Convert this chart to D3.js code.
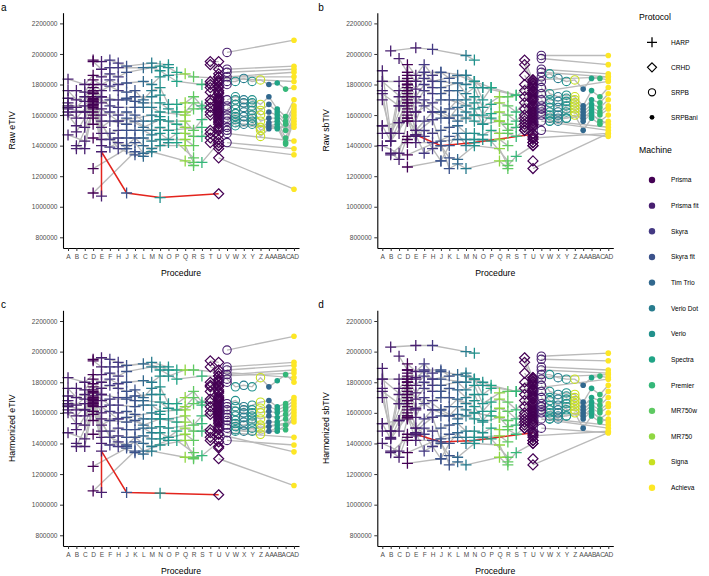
<!DOCTYPE html>
<html>
<head>
<meta charset="utf-8">
<script src="https://cdn.jsdelivr.net/npm/d3@7"></script>
<style>
  body { margin: 0; background: #fff; }
  svg { display: block; font-family: "Liberation Sans", Arial, sans-serif; }
</style>
</head>
<body>
<svg id="chart" width="709" height="576"></svg>
<script>
// procedures on the x axis, with the scanner and protocol used at each
const procedures = ['A','B','C','D','E','F','H','J','K','L','M','N','O','P','Q','R','S','T','U','V','W','X','Y','Z','AA','AB','AC','AD'];
const procMachine = [1,1,1,0,1,2,2,3,3,4,5,6,6,7,10,9,8,0,0,1,6,5,6,11,4,7,8,12];
const procProtocol = ['HARP','HARP','HARP','HARP','HARP','HARP','HARP','HARP','HARP','HARP','HARP','HARP','HARP','HARP','HARP','HARP','HARP',
  'CRHD','CRHD','SRPB','SRPB','SRPB','SRPB','SRPB','SRPBani','SRPBani','SRPBani','SRPBani'];
const protocols = ['HARP','CRHD','SRPB','SRPBani'];
const machines = ['Prisma','Prisma fit','Skyra','Skyra fit','Tim Trio','Verio Dot','Verio','Spectra','Premier','MR750w','MR750','Signa','Achieva'];
const yTicks = [800, 1000, 1200, 1400, 1600, 1800, 2000, 2200]; // x 1000

// subject at index 17 is drawn in red
const highlighted = 17;

// procedures visited by each subject (values below in thousands, same order)
const visits = [
  'D E F H J M O', 'D E F H L N O P', 'A C D E F H J M N P S U AD', 'B C D E F H J L M N O Q R AD',
  'A B C D E F H J K L M N O P Q R S U', 'A C D E H J K M N', 'A B D E F J K L N O P Q R S U', 'A C D F H K L M N Q R',
  'B E H M N', 'A C D E F H J K L M N O Q R S U', 'A B D E H J L N P Q', 'C D E F J K M N O S',
  'A B C D E F H J K L M N O P Q R S U', 'B D E H J L M N Q R', 'A C D F J K L M O P R', 'B C D E F H J K L N Q R S U',
  'B D H K L M Q R', 'E E J N U', 'D K', 'D J',
  'D', 'D', 'D', 'D', 'D', 'D', 'D', 'D', 'D', 'D', 'D E', 'C D', 'A D',
  'T U', 'T U', 'T U', 'T U', 'T U', 'T U', 'T U', 'T U', 'T U', 'T U', 'T U', 'T U', 'T U', 'T U', 'T U',
  'U', 'U', 'U', 'U', 'U', 'U', 'U', 'U', 'U', 'U', 'U', 'U', 'U', 'U', 'U', 'U', 'U', 'U', 'U', 'U', 'U',
  'U AD',
  'V AD', 'V AD', 'V AD', 'V AD',
  'V W X Y Z AA AB AC AD', 'V W X Y Z AA AB AC AD', 'V W X Y Z AA AB AC AD', 'V W X Y Z AA AB AC AD',
  'V W X Y Z AA AB AC AD', 'V W X Y Z AA AB AC AD', 'V W X Y Z AA AB AC AD',
  'V W Y Z AA AB AC AD', 'V W X Y AB AD', 'W AD', 'V AD', 'U AD', 'V AD', 'V'
];

const rawEtiv = [
  [1960,1950,1960,1940,1920,1940,1930], [1950,1900,1910,1910,1910,1920,1910,1880],
  [1835,1800,1860,1850,1870,1850,1880,1910,1890,1820,1800,1850,1850],
  [1760,1750,1830,1800,1830,1800,1810,1820,1800,1850,1860,1870,1850,1820],
  [1760,1700,1720,1800,1760,1790,1760,1750,1760,1700,1760,1780,1670,1670,1680,1720,1660,1750],
  [1710,1690,1780,1720,1700,1710,1720,1720,1730],
  [1680,1650,1760,1680,1700,1700,1690,1680,1680,1640,1620,1620,1680,1640,1700],
  [1660,1660,1740,1660,1650,1650,1650,1650,1620,1600,1640],
  [1620,1640,1560,1600,1590],
  [1640,1620,1710,1600,1620,1600,1620,1600,1560,1560,1570,1560,1560,1500,1570,1620],
  [1620,1580,1700,1560,1560,1580,1520,1570,1540,1520],
  [1580,1690,1520,1560,1540,1560,1500,1520,1500,1520],
  [1600,1530,1520,1680,1480,1480,1500,1500,1500,1500,1470,1480,1440,1480,1480,1460,1460,1550],
  [1490,1670,1440,1450,1450,1450,1430,1440,1440,1400],
  [1470,1430,1660,1440,1400,1450,1400,1380,1420,1420,1320],
  [1400,1380,1650,1400,1390,1420,1380,1420,1350,1400,1400,1290,1290,1420],
  [1380,1620,1380,1340,1330,1360,1300,1270],
  [1070,1360,1090,1060,1085], [1090,1360], [1250,1380],
  [1750], [1720], [1700], [1690], [1670], [1640], [1600], [1580], [1540], [1450],
  [1740,1720], [1620,1700], [1650,1660],
  [1950,1950], [1930,1900], [1820,1830], [1800,1810], [1780,1790], [1750,1760], [1700,1710], [1680,1690],
  [1650,1660], [1620,1630], [1600,1610], [1500,1510], [1480,1470], [1450,1440], [1420,1400],
  [1870], [1850], [1820], [1780], [1740], [1720], [1700], [1680], [1670], [1650], [1640],
  [1620], [1600], [1590], [1580], [1570], [1560], [1540], [1520], [1500], [1380],
  [1320,1115],
  [2010,2090], [1900,1920], [1880,1900], [1850,1880],
  [1820,1820,1840,1820,1830,1800,1810,1770,1780],
  [1700,1720,1700,1700,1670,1720,1640,1590,1700],
  [1660,1700,1680,1680,1630,1670,1620,1560,1660],
  [1640,1670,1650,1660,1600,1620,1600,1540,1640],
  [1600,1640,1620,1630,1560,1580,1580,1500,1620],
  [1580,1610,1590,1600,1520,1550,1560,1450,1600],
  [1560,1590,1560,1580,1500,1530,1540,1420,1580],
  [1520,1570,1560,1460,1510,1520,1410,1560],
  [1500,1550,1540,1540,1510,1540],
  [1530,1520], [1420,1380], [1400,1340], [1480,1430], [1800]
];

const rawSbtiv = [
  [1930,1860,1930,1860,1880,1860,1780], [1880,1820,1880,1820,1860,1820,1700,1780],
  [1820,1820,1840,1770,1840,1820,1820,1800,1820,1780,1730,1830,1850],
  [1480,1760,1820,1720,1800,1780,1780,1810,1740,1780,1650,1720,1720,1820],
  [1760,1430,1720,1800,1680,1760,1740,1740,1760,1760,1700,1720,1600,1670,1680,1660,1620,1760],
  [1740,1660,1780,1620,1680,1700,1700,1660,1680],
  [1700,1480,1760,1560,1700,1620,1640,1700,1640,1540,1610,1620,1600,1560,1700],
  [1530,1550,1740,1660,1620,1580,1650,1620,1600,1560,1540],
  [2020,2040,2030,1990,1960],
  [1480,1480,1700,1500,1560,1570,1580,1580,1600,1580,1560,1540,1560,1500,1520,1620],
  [1890,1480,1680,1500,1620,1620,1560,1600,1580,1560],
  [1970,1880,1820,1880,1880,1840,1860,1820,1780,1730],
  [1530,1430,1550,1600,1470,1500,1480,1500,1520,1530,1480,1480,1470,1500,1480,1480,1460,1540],
  [1430,1580,1420,1420,1430,1440,1440,1440,1440,1400],
  [1400,1350,1560,1460,1300,1400,1480,1400,1440,1430,1300],
  [1350,1310,1460,1470,1350,1380,1400,1320,1310,1400,1380,1270,1330,1400],
  [1340,1440,1570,1250,1280,1250,1300,1250],
  [1460,1470,1400,1420,1475], [1340,1460], [1260,1300],
  [1860], [1820], [1760], [1720], [1660], [1640], [1620], [1580], [1560], [1420],
  [1800,1620], [1660,1800], [1820,1680],
  [1960,1830], [1930,1800], [1860,1780], [1800,1760], [1760,1720], [1720,1700], [1680,1660], [1640,1620],
  [1600,1580], [1560,1560], [1520,1520], [1500,1480], [1500,1440], [1540,1420], [1580,1400],
  [1820], [1810], [1790], [1750], [1740], [1730], [1710], [1690], [1670], [1650], [1640],
  [1630], [1610], [1600], [1590], [1570], [1550], [1530], [1460], [1420], [1300],
  [1250,1480],
  [1990,1990], [1970,1930], [1900,1870], [1880,1850],
  [1850,1870,1840,1820,1830,1770,1840,1840,1830],
  [1820,1740,1720,1730,1720,1660,1760,1720,1780],
  [1780,1700,1690,1710,1700,1640,1700,1680,1740],
  [1740,1680,1650,1690,1680,1620,1670,1650,1700],
  [1700,1650,1620,1660,1660,1600,1650,1620,1660],
  [1660,1620,1580,1640,1640,1580,1630,1600,1640],
  [1640,1600,1560,1620,1620,1560,1610,1560,1600],
  [1620,1560,1580,1600,1500,1580,1540,1560],
  [1600,1580,1600,1580,1600,1540],
  [1560,1520], [1560,1500], [1450,1480], [1500,1460], [1640]
];

const harmEtiv = [
  [1950,1960,1950,1930,1910,1930,1900], [1940,1900,1900,1900,1920,1900,1880,1880],
  [1830,1800,1850,1850,1860,1840,1870,1900,1880,1820,1840,1840,1860],
  [1760,1750,1820,1800,1820,1790,1800,1810,1800,1840,1840,1880,1880,1830],
  [1760,1700,1720,1790,1760,1780,1760,1740,1750,1700,1760,1770,1660,1660,1700,1740,1670,1740],
  [1710,1690,1770,1720,1700,1700,1710,1720,1720],
  [1680,1650,1750,1680,1690,1690,1680,1680,1670,1630,1620,1640,1700,1650,1690],
  [1660,1660,1730,1650,1650,1640,1650,1650,1610,1620,1660],
  [1620,1640,1560,1600,1590],
  [1640,1620,1700,1600,1610,1600,1610,1590,1560,1560,1560,1560,1580,1520,1580,1610],
  [1620,1580,1690,1560,1560,1570,1520,1560,1540,1540],
  [1580,1680,1520,1550,1540,1550,1500,1510,1500,1530],
  [1600,1530,1520,1670,1480,1480,1500,1490,1490,1500,1470,1470,1440,1480,1500,1480,1480,1540],
  [1490,1660,1440,1450,1440,1450,1430,1430,1460,1420],
  [1470,1430,1650,1440,1390,1440,1400,1380,1420,1420,1340],
  [1400,1380,1640,1400,1390,1410,1380,1410,1350,1390,1420,1310,1320,1410],
  [1380,1610,1380,1340,1330,1350,1310,1300],
  [1080,1350,1080,1075,1065], [1090,1350], [1250,1370],
  [1740], [1710], [1700], [1690], [1670], [1650], [1610], [1590], [1550], [1460],
  [1730,1720], [1620,1690], [1650,1660],
  [1940,1930], [1900,1880], [1800,1820], [1780,1800], [1770,1780], [1740,1750], [1690,1700], [1670,1680],
  [1640,1650], [1610,1620], [1590,1600], [1490,1500], [1470,1460], [1440,1430], [1420,1380],
  [1860], [1840], [1810], [1770], [1730], [1710], [1690], [1670], [1660], [1640], [1630],
  [1610], [1590], [1580], [1570], [1560], [1550], [1530], [1510], [1490], [1370],
  [1300,1125],
  [2010,2100], [1900,1930], [1880,1910], [1850,1880],
  [1820,1770,1780,1770,1830,1770,1810,1850,1800],
  [1660,1680,1640,1650,1670,1680,1640,1660,1700],
  [1640,1640,1620,1620,1630,1640,1620,1640,1680],
  [1620,1610,1600,1600,1600,1610,1600,1620,1660],
  [1590,1580,1570,1580,1560,1580,1570,1590,1640],
  [1570,1550,1540,1560,1520,1540,1540,1560,1620],
  [1550,1530,1520,1540,1500,1510,1520,1520,1600],
  [1520,1510,1500,1460,1480,1500,1490,1580],
  [1500,1490,1480,1480,1480,1560],
  [1480,1540], [1420,1390], [1460,1345], [1470,1440], [1800]
];

const harmSbtiv = [
  [1920,1870,1920,1860,1870,1840,1800], [1880,1830,1870,1820,1850,1820,1720,1760],
  [1820,1820,1840,1780,1840,1820,1820,1800,1820,1780,1740,1830,1850],
  [1480,1760,1820,1730,1800,1780,1780,1800,1750,1780,1660,1730,1740,1820],
  [1760,1440,1720,1800,1690,1760,1740,1740,1760,1750,1700,1720,1610,1670,1690,1670,1620,1750],
  [1740,1660,1780,1630,1680,1700,1700,1660,1680],
  [1700,1480,1760,1570,1700,1620,1640,1690,1640,1550,1610,1630,1610,1560,1690],
  [1530,1550,1740,1660,1620,1580,1640,1620,1600,1570,1550],
  [2030,2040,2040,2000,1990],
  [1480,1480,1700,1500,1560,1570,1580,1580,1590,1580,1560,1540,1570,1510,1520,1610],
  [1890,1480,1680,1500,1620,1620,1560,1600,1580,1570],
  [1970,1880,1820,1880,1880,1840,1860,1820,1780,1740],
  [1530,1430,1550,1600,1470,1500,1480,1500,1520,1530,1480,1480,1470,1500,1490,1490,1460,1540],
  [1430,1580,1420,1420,1430,1440,1440,1440,1450,1410],
  [1400,1350,1560,1460,1300,1400,1470,1400,1440,1430,1310],
  [1350,1310,1460,1470,1350,1380,1400,1320,1310,1400,1390,1280,1340,1400],
  [1340,1440,1570,1260,1280,1260,1310,1260],
  [1450,1460,1410,1420,1470], [1340,1460], [1270,1300],
  [1860], [1820], [1760], [1720], [1660], [1640], [1620], [1580], [1570], [1420],
  [1800,1620], [1660,1800], [1820,1680],
  [1960,1830], [1930,1800], [1860,1780], [1800,1760], [1760,1720], [1720,1700], [1680,1660], [1640,1620],
  [1600,1580], [1560,1560], [1520,1520], [1500,1480], [1500,1440], [1540,1420], [1580,1400],
  [1820], [1810], [1790], [1750], [1740], [1730], [1710], [1690], [1670], [1650], [1640],
  [1630], [1610], [1600], [1590], [1570], [1550], [1530], [1460], [1420], [1300],
  [1260,1470],
  [1970,1990], [1950,1940], [1900,1880], [1880,1860],
  [1850,1850,1830,1820,1820,1780,1830,1840,1830],
  [1820,1740,1720,1730,1720,1670,1760,1720,1780],
  [1780,1700,1690,1710,1700,1640,1700,1680,1740],
  [1740,1680,1650,1690,1680,1620,1670,1650,1700],
  [1700,1650,1620,1660,1660,1600,1650,1620,1660],
  [1660,1620,1580,1640,1640,1580,1630,1600,1640],
  [1640,1600,1560,1620,1620,1560,1610,1560,1600],
  [1620,1560,1580,1600,1500,1580,1540,1560],
  [1600,1580,1600,1580,1600,1540],
  [1560,1520], [1560,1500], [1450,1480], [1500,1470], [1640]
];

const svg = d3.select('#chart');
const machineColor = i => d3.interpolateViridis(i / (machines.length - 1));

const plusPath = s => `M${-s},0H${s}M0,${-s}V${s}`;
const diamondPath = s => `M0,${-s}L${s},0L0,${s}L${-s},0Z`;

function drawMarker(sel, protocol, color, big) {
  if (protocol === 'HARP') {
    sel.append('path').attr('d', plusPath(big ? 5.5 : 5))
      .attr('fill', 'none').attr('stroke', color).attr('stroke-width', 1.3);
  } else if (protocol === 'CRHD') {
    sel.append('path').attr('d', diamondPath(big ? 5 : 4.5))
      .attr('fill', 'none').attr('stroke', color).attr('stroke-width', 1.2);
  } else if (protocol === 'SRPB') {
    sel.append('circle').attr('r', big ? 4.2 : 3.6)
      .attr('fill', 'none').attr('stroke', color).attr('stroke-width', 1.1);
  } else {
    sel.append('circle').attr('r', big ? 2.8 : 2.4).attr('fill', color);
  }
}

function renderPanel(opts) {
  const { left, top, width, height, values, yLabel, tag } = opts;

  const g = svg.append('g').attr('transform', `translate(${left},${top})`);

  const x = d3.scalePoint().domain(procedures).range([0, width]).padding(0.6);
  const y = d3.scaleLinear().domain([730, 2270]).range([height, 0]);

  const subjects = visits.map((v, i) => v.split(' ').map((p, j) => ({ proc: p, value: values[i][j], subject: i })));

  const line = d3.line().x(d => x(d.proc)).y(d => y(d.value));

  // grey subject lines
  g.selectAll('.link')
    .data(subjects.filter((s, i) => s.length > 1 && i !== highlighted))
    .enter()
    .append('path')
    .attr('class', 'link')
    .attr('d', line)
    .attr('fill', 'none')
    .attr('stroke', '#bababa')
    .attr('stroke-width', 1.35);

  // red subject
  g.append('path')
    .datum(subjects[highlighted])
    .attr('d', line)
    .attr('fill', 'none')
    .attr('stroke', '#e3241d')
    .attr('stroke-width', 1.5);

  // points
  const points = subjects.flat();
  g.selectAll('.pt')
    .data(points)
    .enter()
    .append('g')
    .attr('class', 'pt')
    .attr('transform', d => `translate(${x(d.proc)},${y(d.value)})`)
    .each(function(d) {
      const k = procedures.indexOf(d.proc);
      drawMarker(d3.select(this), procProtocol[k], machineColor(procMachine[k]), true);
    });

  // Eje X
  const xAxis = g.append('g')
    .attr('transform', `translate(0,${height})`)
    .call(d3.axisBottom(x).tickSize(3).tickSizeOuter(0).tickPadding(3.5));
  xAxis.selectAll('text').style('font-size', '6.6px').style('fill', '#4d4d4d');

  // Eje Y
  const yAxis = g.append('g')
    .call(d3.axisLeft(y).tickValues(yTicks).tickSize(3).tickSizeOuter(0).tickPadding(2.5)
      .tickFormat(d => String(d * 1000)));
  yAxis.selectAll('text').style('font-size', '6.6px').style('fill', '#4d4d4d');

  [xAxis, yAxis].forEach(a => {
    a.select('.domain').attr('stroke', '#000').attr('stroke-width', 1.1);
    a.selectAll('.tick line').attr('stroke', '#333');
  });

  // titles
  g.append('text')
    .attr('x', width / 2)
    .attr('y', height + 28)
    .attr('text-anchor', 'middle')
    .style('font-size', '8.7px')
    .text('Procedure');

  g.append('text')
    .attr('transform', 'rotate(-90)')
    .attr('x', -height / 2)
    .attr('y', -48)
    .attr('text-anchor', 'middle')
    .style('font-size', '8.7px')
    .text(yLabel);

  svg.append('text')
    .attr('x', left - (left > 300 ? 60 : 63) + 1)
    .attr('y', top - 2)
    .style('font-size', '10px')
    .text(tag);
}

renderPanel({ left: 63, top: 12.7, width: 236, height: 235.3, values: rawEtiv, yLabel: 'Raw eTIV', tag: 'a' });
renderPanel({ left: 377.3, top: 12.7, width: 236, height: 235.3, values: rawSbtiv, yLabel: 'Raw sbTIV', tag: 'b' });
renderPanel({ left: 63, top: 310.3, width: 236, height: 235.7, values: harmEtiv, yLabel: 'Harmonized eTIV', tag: 'c' });
renderPanel({ left: 377.3, top: 310.3, width: 236, height: 235.7, values: harmSbtiv, yLabel: 'Harmonized sbTIV', tag: 'd' });

// Legend
const legend = svg.append('g');
legend.append('text').attr('x', 639).attr('y', 20).style('font-size', '8.7px').text('Protocol');
protocols.forEach((p, i) => {
  const row = legend.append('g').attr('transform', `translate(652,${42.3 + i * 25})`);
  drawMarker(row, p, '#000', false);
  row.append('text').attr('x', 19).attr('dy', '0.35em').style('font-size', '6.6px').text(p);
});

legend.append('text').attr('x', 639).attr('y', 153).style('font-size', '8.7px').text('Machine');
machines.forEach((m, i) => {
  const row = legend.append('g').attr('transform', `translate(652,${180 + i * 25.65})`);
  row.append('circle').attr('r', 3.2).attr('fill', machineColor(i));
  row.append('text').attr('x', 19).attr('dy', '0.35em').style('font-size', '6.6px').text(m);
});
</script>
</body>
</html>
